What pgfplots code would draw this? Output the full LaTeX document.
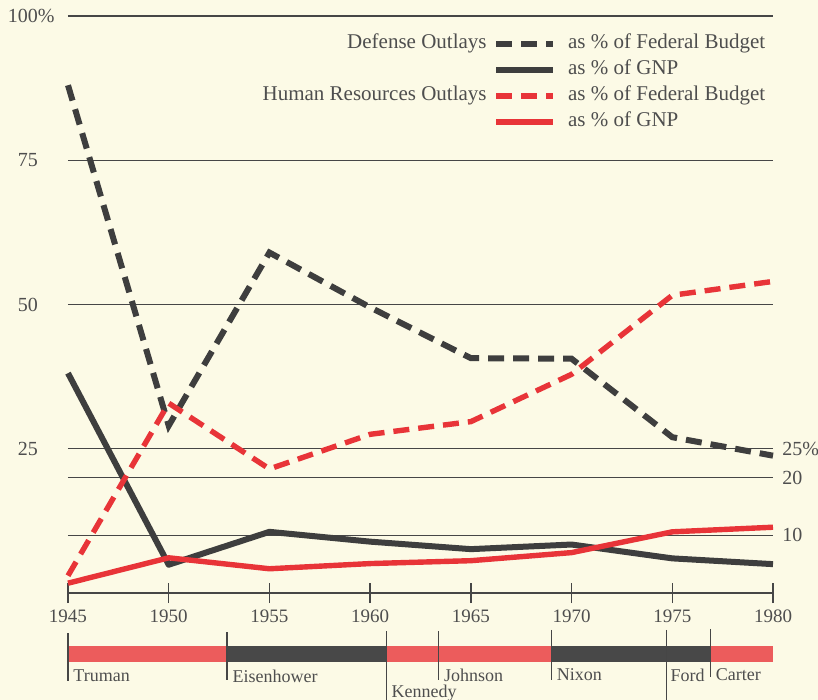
\documentclass[border=0pt]{standalone}
\usepackage{pgfplots}
\pgfplotsset{compat=1.18}
\usepackage{fontspec}
\setmainfont{Liberation Serif}

\definecolor{paper}{RGB}{252,250,230}
\definecolor{inkline}{RGB}{62,62,62}
\definecolor{redline}{RGB}{232,52,56}
\definecolor{gridc}{RGB}{70,70,70}
\definecolor{textc}{RGB}{78,78,78}
\definecolor{barred}{RGB}{236,92,92}
\definecolor{bargray}{RGB}{72,72,72}

\begin{document}
\begin{tikzpicture}[x=1pt,y=1pt]
\fill[paper] (-34,-53.5) rectangle (375,296.5);
\begin{axis}[
  at={(0,0)}, anchor=south west,
  scale only axis, width=352.5pt, height=288.5pt,
  xmin=1945, xmax=1980, ymin=0, ymax=100,
  clip=false,
  axis x line*=bottom, axis y line*=left,
  y axis line style={draw=none},
  x axis line style={draw=gridc, line width=0.7pt},
  xtick={1945,1950,...,1980},
  xtick align=center, major tick length=10pt,
  xtick style={draw=gridc, line width=0.7pt},
  xticklabel style={/pgf/number format/1000 sep={}, font=\fontsize{9.5}{11}\selectfont, text=textc},
  /pgf/number format/assume math mode=true,
  ytick={10,20,25,50,75,100},
  yticklabels={,,25,50,75,{100\rlap{\%}}},
  ytick style={draw=none},
  yticklabel style={font=\fontsize{10}{11}\selectfont, text=textc, xshift=-11.5pt},
  ymajorgrids, major grid style={draw=gridc, line width=0.6pt},
  legend style={at={(0.603,0.969)}, anchor=north west, draw=none, fill=none,
    inner sep=0pt, outer sep=0pt, row sep=3pt, column sep=6pt,
    font=\fontsize{10.5}{12}\selectfont, text=textc,
    nodes={inner sep=0pt, text height=7.5pt, text depth=2.5pt}},
  legend image code/.code={\draw[#1] (0pt,0pt) -- (28.5pt,0pt);},
  legend cell align=left,
]
% defense outlays, % of federal budget
\addplot[inkline, line width=3pt, dash pattern=on 8pt off 4.5pt] coordinates {
  (1945,88) (1950,29) (1955,59) (1960,49.5) (1965,40.7) (1970,40.6) (1975,27) (1980,23.8)};
\addlegendentry{as \% of Federal Budget}
% defense outlays, % of GNP
\addplot[inkline, line width=3pt, line join=round] coordinates {
  (1945,38.1) (1950,4.9) (1955,10.6) (1960,8.9) (1965,7.6) (1970,8.4) (1975,6.0) (1980,5.0)};
\addlegendentry{as \% of GNP}
% human resources outlays, % of federal budget
\addplot[redline, line width=2.7pt, dash pattern=on 8pt off 4.5pt] coordinates {
  (1945,3) (1950,32.9) (1955,21.5) (1960,27.5) (1965,29.7) (1970,37.9) (1975,51.6) (1980,54)};
\addlegendentry{as \% of Federal Budget}
% human resources outlays, % of GNP
\addplot[redline, line width=2.7pt, line join=round] coordinates {
  (1945,1.7) (1950,6.1) (1955,4.2) (1960,5.1) (1965,5.6) (1970,7.0) (1975,10.6) (1980,11.4)};
\addlegendentry{as \% of GNP}

\node[anchor=base east, inner sep=0pt, font=\fontsize{10.5}{12}\selectfont, text=textc] at (rel axis cs:0.5943,0.9445) {Defense Outlays};
\node[anchor=base east, inner sep=0pt, font=\fontsize{10.5}{12}\selectfont, text=textc] at (rel axis cs:0.5943,0.8544) {Human Resources Outlays};

\node[anchor=west, inner sep=0pt, xshift=4.5pt, font=\fontsize{10}{11}\selectfont, text=textc] at (axis cs:1980,25) {25\%};
\node[anchor=west, inner sep=0pt, xshift=4.5pt, font=\fontsize{10}{11}\selectfont, text=textc] at (axis cs:1980,20) {20};
\node[anchor=west, inner sep=0pt, xshift=4.5pt, font=\fontsize{10}{11}\selectfont, text=textc] at (axis cs:1980,10) {10};

% presidential terms
\fill[barred]  (axis cs:1945,-9.2)   rectangle (axis cs:1952.9,-12);
\fill[bargray] (axis cs:1952.9,-9.2) rectangle (axis cs:1960.8,-12);
\fill[barred]  (axis cs:1960.8,-9.2) rectangle (axis cs:1969,-12);
\fill[bargray] (axis cs:1969,-9.2)   rectangle (axis cs:1976.9,-12);
\fill[barred]  (axis cs:1976.9,-9.2) rectangle (axis cs:1980,-12);
\draw[gridc, line width=0.7pt] (axis cs:1945,-7)    -- (axis cs:1945,-15.2);
\draw[gridc, line width=0.7pt] (axis cs:1952.9,-6.8) -- (axis cs:1952.9,-15);
\draw[gridc, line width=0.7pt] (axis cs:1960.8,-6.6) -- (axis cs:1960.8,-19);
\draw[gridc, line width=0.7pt] (axis cs:1963.4,-6.6) -- (axis cs:1963.4,-15);
\draw[gridc, line width=0.7pt] (axis cs:1969,-6.4)   -- (axis cs:1969,-15);
\draw[gridc, line width=0.7pt] (axis cs:1974.7,-6.4) -- (axis cs:1974.7,-18.5);
\draw[gridc, line width=0.7pt] (axis cs:1976.9,-6.2) -- (axis cs:1976.9,-14.5);
\begin{scope}[every node/.style={anchor=west, inner sep=0pt, font=\fontsize{9}{10}\selectfont, text=textc}]
\node at ([xshift=2.5pt]axis cs:1945,-14.4) {Truman};
\node at ([xshift=2.5pt]axis cs:1952.9,-14.4) {Eisenhower};
\node at ([xshift=2.5pt]axis cs:1960.8,-17.4) {Kennedy};
\node at ([xshift=2.5pt]axis cs:1963.4,-14.2) {Johnson};
\node at ([xshift=2.5pt]axis cs:1969,-14.2) {Nixon};
\node at ([xshift=2pt]axis cs:1974.7,-14.2) {Ford};
\node at ([xshift=2.5pt]axis cs:1976.9,-14.2) {Carter};
\end{scope}
\end{axis}
\pgfresetboundingbox
\path[use as bounding box] (-34,-53.5) rectangle (375,296.5);
\end{tikzpicture}
\end{document}
